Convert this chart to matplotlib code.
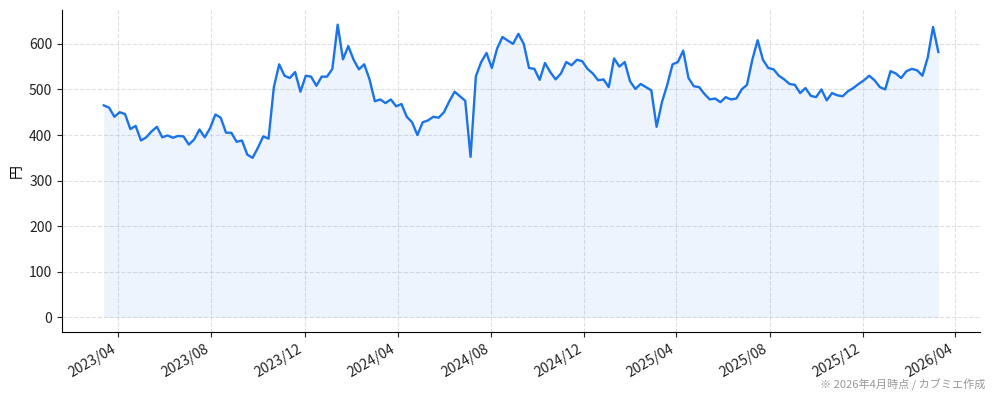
import matplotlib
matplotlib.use("Agg")
import matplotlib.pyplot as plt
import matplotlib.dates as mdates
import pandas as pd

plt.rcParams['font.family'] = ['Noto Sans CJK JP', 'DejaVu Sans']

start_date = "2023-03-13"
end_date = "2026-03-10"
prices = [
    465, 460, 440, 450, 446, 413, 420, 388, 395, 408,
    418, 395, 399, 394, 398, 397, 379, 390, 412, 395,
    415, 445, 438, 405, 405, 385, 388, 357, 350, 372,
    397, 392, 505, 555, 530, 525, 538, 495, 530, 528,
    508, 528, 528, 545, 642, 566, 595, 565, 544, 555,
    522, 474, 478, 470, 478, 463, 468, 440, 428, 400,
    428, 432, 440, 438, 450, 474, 495, 485, 475, 352,
    529, 560, 580, 547, 590, 615, 607, 600, 622, 600,
    547, 545, 521, 558, 538, 522, 535, 560, 553, 565,
    562, 545, 535, 520, 522, 505, 568, 550, 560, 518,
    501, 512, 505, 498, 418, 472, 510, 555, 560, 585,
    525, 507, 505, 490, 478, 480, 472, 483, 478, 480,
    500, 510, 565, 608, 565, 547, 544, 530, 522, 512,
    510, 492, 503, 486, 483, 500, 476, 492, 487, 485,
    496, 503, 512, 520, 530, 520, 505, 500, 540, 535,
    525, 540, 545, 542, 530, 570, 637, 582,
]
dates = pd.date_range(start_date, end_date, periods=len(prices))

y_label = "円"
note = "※ 2026年4月時点 / カブミエ作成"
line_color = "#1a73e8"

fig = plt.figure(figsize=(9.94, 4.01), dpi=100)
ax = fig.add_axes([0.0624, 0.172, 0.9236, 0.803])

ax.plot(dates, prices, color=line_color, linewidth=1.7)
ax.fill_between(dates, prices, 0, color=line_color, alpha=0.08, linewidth=0)

ax.set_yticks([0, 100, 200, 300, 400, 500, 600])
ax.xaxis.set_major_locator(mdates.MonthLocator(bymonth=[4, 8, 12]))
ax.xaxis.set_major_formatter(mdates.DateFormatter('%Y/%m'))
for lbl in ax.get_xticklabels():
    lbl.set_rotation(30)
    lbl.set_ha('right')
ax.tick_params(labelsize=10, colors='#222222')
ax.set_ylabel(y_label, fontsize=10)

ax.grid(True, linestyle='--', color='#d9d9d9', linewidth=0.8, alpha=0.8)
ax.set_axisbelow(True)
ax.spines['top'].set_visible(False)
ax.spines['right'].set_visible(False)

fig.text(0.991, 0.025, note, ha='right', va='bottom', fontsize=8, color='#999999')

fig.savefig("out.png", dpi=100)
